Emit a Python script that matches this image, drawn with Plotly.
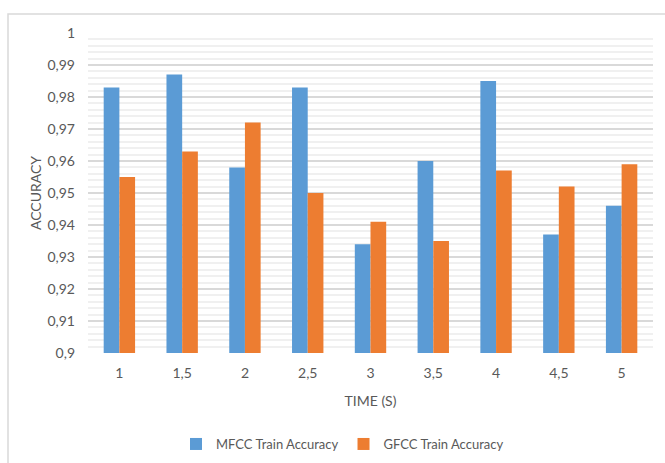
import plotly.graph_objects as go

# Segment duration (s) used on the x axis
durations = ["1", "1,5", "2", "2,5", "3", "3,5", "4", "4,5", "5"]

# Training accuracy per feature type
mfcc_acc = [0.983, 0.987, 0.958, 0.983, 0.934, 0.960, 0.985, 0.937, 0.946]
gfcc_acc = [0.955, 0.963, 0.972, 0.950, 0.941, 0.935, 0.957, 0.952, 0.959]

# Y axis ticks
y_ticks = [0.90, 0.91, 0.92, 0.93, 0.94, 0.95, 0.96, 0.97, 0.98, 0.99, 1.00]
y_labels = ["0,9", "0,91", "0,92", "0,93", "0,94", "0,95", "0,96", "0,97", "0,98", "0,99", "1"]

BLUE = "#5B9BD5"
ORANGE = "#ED7D31"
TEXT = "#595959"
FONT = "Lato, 'Open Sans', sans-serif"

fig = go.Figure()
fig.add_trace(go.Bar(
    x=durations, y=mfcc_acc, name="MFCC Train Accuracy",
    marker=dict(color=BLUE, line=dict(width=0)),
))
fig.add_trace(go.Bar(
    x=durations, y=gfcc_acc, name="GFCC Train Accuracy",
    marker=dict(color=ORANGE, line=dict(width=0)),
))

fig.update_layout(
    width=665, height=463,
    margin=dict(l=88, r=12, t=33, b=110, autoexpand=False),
    paper_bgcolor="white", plot_bgcolor="white",
    barmode="group", bargap=0.5, bargroupgap=0,
    font=dict(family=FONT, size=14, color=TEXT),
    showlegend=True,
    legend=dict(
        orientation="h", x=0.515, xref="container", xanchor="center",
        y=0.041, yref="container", yanchor="middle",
        font=dict(family=FONT, size=13, color=TEXT),
        itemwidth=30, traceorder="normal",
    ),
    xaxis=dict(
        type="category", showgrid=False, zeroline=False, automargin=False,
        showline=False, ticks="", tickfont=dict(size=14, color=TEXT),
        ticklabelstandoff=10,
        title=dict(text="TIME (S)", font=dict(size=14, color=TEXT), standoff=16),
    ),
    yaxis=dict(
        range=[0.9, 1.0], tickvals=y_ticks, ticktext=y_labels, automargin=False,
        showgrid=True, gridcolor="#D9D9D9", gridwidth=1.5,
        zeroline=False, showline=False, ticks="",
        tickfont=dict(size=14, color=TEXT), ticklabelstandoff=12,
        minor=dict(dtick=0.002, tick0=0.9, showgrid=True, gridcolor="#F0F0F0", gridwidth=1.5),
        title=dict(text="ACCURACY", font=dict(size=14, color=TEXT), standoff=2),
    ),
    shapes=[dict(
        type="rect", xref="paper", yref="paper",
        x0=-0.1416, x1=1.04, y0=-0.4, y1=1.059,
        line=dict(color="#D9D9D9", width=1.5), fillcolor="rgba(0,0,0,0)", layer="below",
    )],
)

fig.write_html("out.html")
